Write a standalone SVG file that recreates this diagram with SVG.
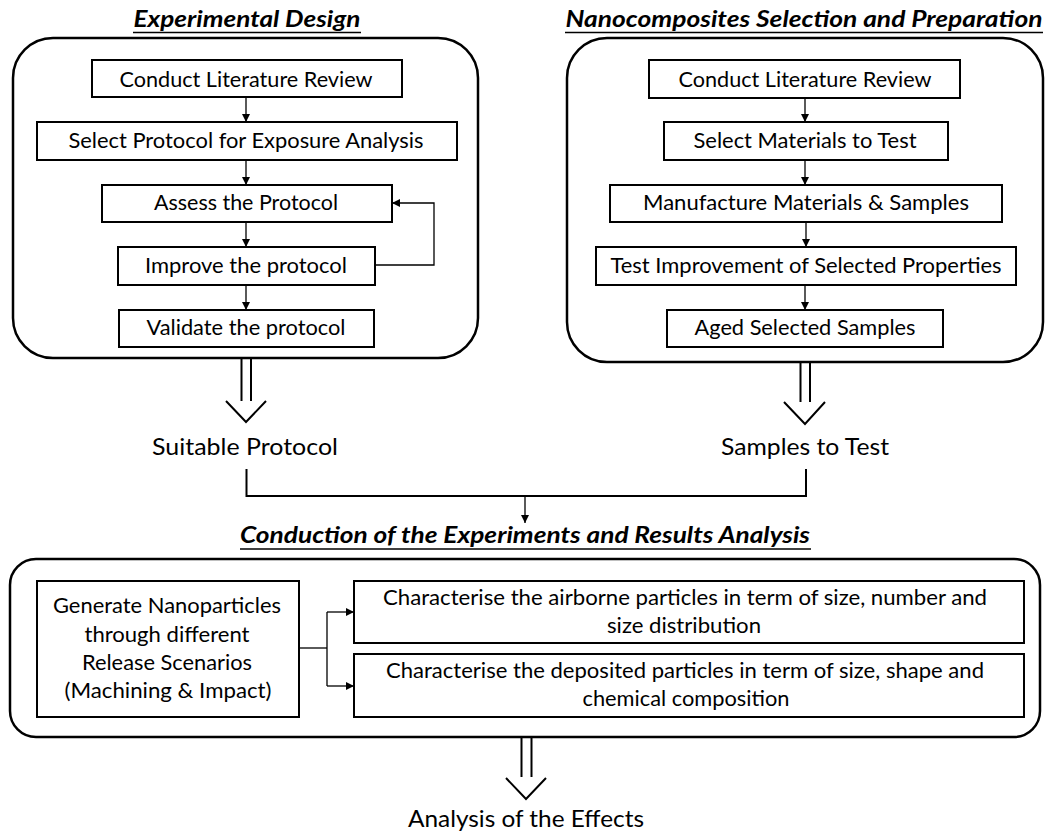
<svg xmlns="http://www.w3.org/2000/svg" width="1047" height="834" viewBox="0 0 1047 834">
<defs>
<style>
text{font-family:"Lato","Liberation Sans",sans-serif;fill:#000}
.t{font-size:21.5px;text-anchor:middle}
.lbl{font-size:23.5px;text-anchor:middle}
.ttl{font-size:22.5px;font-weight:bold;font-style:italic;text-anchor:middle}
.box{fill:#fff;stroke:#000;stroke-width:2}
.panel{fill:#fff;stroke:#000;stroke-width:2.5}
.c{fill:none;stroke:#000;stroke-width:1.3}
.ul{stroke:#000;stroke-width:1.6}
.big{fill:none;stroke:#000;stroke-width:2}
</style>
<marker id="ah" markerWidth="10" markerHeight="10" refX="8" refY="4" orient="auto" markerUnits="userSpaceOnUse">
<path d="M0,0 L8,4 L0,8 Z" fill="#000"/>
</marker>
</defs>
<rect width="1047" height="834" fill="#fff"/>

<g id="title-left">
<text class="ttl" x="247" y="27" textLength="227" lengthAdjust="spacingAndGlyphs">Experimental Design</text>
<line class="ul" x1="133" y1="32.5" x2="361" y2="32.5"/>
</g>
<g id="title-right">
<text class="ttl" x="804" y="27" textLength="477" lengthAdjust="spacingAndGlyphs">Nanocomposites Selection and Preparation</text>
<line class="ul" x1="565" y1="32.5" x2="1043" y2="32.5"/>
</g>

<g id="panel-left"><rect class="panel" x="13" y="38" width="465" height="320" rx="40"/></g>
<g id="panel-right"><rect class="panel" x="567" y="38" width="476" height="324" rx="40"/></g>

<g id="L1"><rect class="box" x="92" y="60" width="310" height="37"/><text class="t" x="246" y="87" textLength="253" lengthAdjust="spacingAndGlyphs">Conduct Literature Review</text></g>
<g id="L2"><rect class="box" x="37" y="122" width="420" height="38"/><text class="t" x="246" y="148" textLength="355" lengthAdjust="spacingAndGlyphs">Select Protocol for Exposure Analysis</text></g>
<g id="L3"><rect class="box" x="102" y="185" width="290" height="37"/><text class="t" x="246" y="210" textLength="184" lengthAdjust="spacingAndGlyphs">Assess the Protocol</text></g>
<g id="L4"><rect class="box" x="118" y="247" width="257" height="38"/><text class="t" x="246" y="273" textLength="202" lengthAdjust="spacingAndGlyphs">Improve the protocol</text></g>
<g id="L5"><rect class="box" x="119" y="310" width="255" height="37"/><text class="t" x="246" y="335" textLength="199" lengthAdjust="spacingAndGlyphs">Validate the protocol</text></g>

<g id="R1"><rect class="box" x="649" y="60" width="311" height="38"/><text class="t" x="805" y="87" textLength="253" lengthAdjust="spacingAndGlyphs">Conduct Literature Review</text></g>
<g id="R2"><rect class="box" x="664" y="122" width="284" height="38"/><text class="t" x="805" y="148" textLength="223" lengthAdjust="spacingAndGlyphs">Select Materials to Test</text></g>
<g id="R3"><rect class="box" x="610" y="185" width="392" height="37"/><text class="t" x="806" y="210" textLength="326" lengthAdjust="spacingAndGlyphs">Manufacture Materials &amp; Samples</text></g>
<g id="R4"><rect class="box" x="596" y="247" width="420" height="38"/><text class="t" x="806" y="273" textLength="391" lengthAdjust="spacingAndGlyphs">Test Improvement of Selected Properties</text></g>
<g id="R5"><rect class="box" x="667" y="310" width="276" height="37"/><text class="t" x="805" y="335" textLength="221" lengthAdjust="spacingAndGlyphs">Aged Selected Samples</text></g>

<g id="label-protocol"><text class="lbl" x="245" y="455" textLength="186" lengthAdjust="spacingAndGlyphs">Suitable Protocol</text></g>
<g id="label-samples"><text class="lbl" x="805" y="455" textLength="168" lengthAdjust="spacingAndGlyphs">Samples to Test</text></g>

<g id="title-bottom">
<text class="ttl" x="525" y="543" textLength="570" lengthAdjust="spacingAndGlyphs">Conduction of the Experiments and Results Analysis</text>
<line class="ul" x1="240" y1="549" x2="811" y2="549"/>
</g>

<g id="panel-bottom"><rect class="panel" x="10" y="559" width="1030" height="178" rx="26"/></g>
<g id="B1"><rect class="box" x="37" y="581" width="262" height="136"/>
<text class="t" x="167" y="613" textLength="228" lengthAdjust="spacingAndGlyphs">Generate Nanoparticles</text>
<text class="t" x="167" y="642" textLength="165" lengthAdjust="spacingAndGlyphs">through different</text>
<text class="t" x="167" y="670" textLength="170" lengthAdjust="spacingAndGlyphs">Release Scenarios</text>
<text class="t" x="168" y="698" textLength="207" lengthAdjust="spacingAndGlyphs">(Machining &amp; Impact)</text>
</g>
<g id="B2"><rect class="box" x="354" y="581" width="670" height="62"/>
<text class="t" x="685" y="605" textLength="604" lengthAdjust="spacingAndGlyphs">Characterise the airborne particles in term of size, number and</text>
<text class="t" x="684" y="633" textLength="154" lengthAdjust="spacingAndGlyphs">size distribution</text>
</g>
<g id="B3"><rect class="box" x="354" y="654" width="670" height="63"/>
<text class="t" x="685" y="678" textLength="598" lengthAdjust="spacingAndGlyphs">Characterise the deposited particles in term of size, shape and</text>
<text class="t" x="686" y="706" textLength="207" lengthAdjust="spacingAndGlyphs">chemical composition</text>
</g>

<g id="label-effects"><text class="lbl" x="526" y="827" textLength="236" lengthAdjust="spacingAndGlyphs">Analysis of the Effects</text></g>

<g id="connectors">
<line class="c" x1="246" y1="97" x2="246" y2="122" marker-end="url(#ah)"/>
<line class="c" x1="246" y1="160" x2="246" y2="185" marker-end="url(#ah)"/>
<line class="c" x1="246" y1="222" x2="246" y2="247" marker-end="url(#ah)"/>
<line class="c" x1="246" y1="285" x2="246" y2="310" marker-end="url(#ah)"/>
<polyline class="c" points="375,265 434,265 434,203 392,203" marker-end="url(#ah)"/>
<line class="c" x1="805" y1="98" x2="805" y2="122" marker-end="url(#ah)"/>
<line class="c" x1="805" y1="160" x2="805" y2="185" marker-end="url(#ah)"/>
<line class="c" x1="806" y1="222" x2="806" y2="247" marker-end="url(#ah)"/>
<line class="c" x1="805" y1="285" x2="805" y2="310" marker-end="url(#ah)"/>
<path class="big" d="M241.5,358 V401 M251,358 V401 M226,401 L246,422 L266,401"/>
<path class="big" d="M800.5,362 V402 M810,362 V402 M784,402 L805,424 L825,402"/>
<path class="big" d="M521.5,737 V777 M531.5,737 V777 M506,778 L526,799 L546,778"/>
<polyline class="big" points="246.5,469 246.5,496 806,496 806,469"/>
<line class="c" x1="525" y1="496" x2="525" y2="523" marker-end="url(#ah)"/>
<line class="c" x1="299" y1="648" x2="327" y2="648"/>
<line class="c" x1="327" y1="612" x2="327" y2="686"/>
<line class="c" x1="327" y1="612" x2="354" y2="612" marker-end="url(#ah)"/>
<line class="c" x1="327" y1="686" x2="354" y2="686" marker-end="url(#ah)"/>
</g>
</svg>
